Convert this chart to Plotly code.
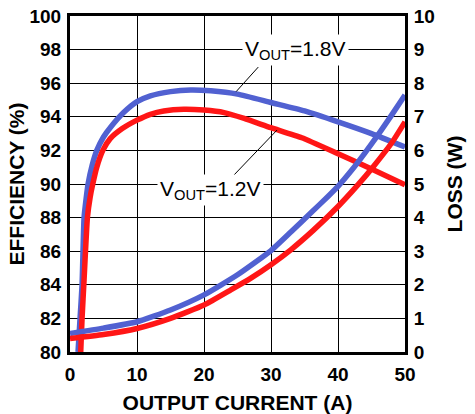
import plotly.graph_objects as go

# Efficiency curves (left axis, %)
eff18_x = [1.2, 1.5, 1.8, 2.1, 2.4, 2.7, 3.3, 4.0, 5.0, 6.0, 8.0, 10, 12, 15, 18, 21, 25, 30, 35, 40, 45, 50]
eff18_y = [80.0, 82.0, 84.0, 88.0, 89.1, 90.0, 91.1, 92.0, 92.8, 93.35, 94.25, 94.9, 95.25, 95.5, 95.6, 95.55, 95.35, 94.85, 94.35, 93.7, 93.0, 92.2]

eff12_x = [1.6, 1.8, 2.1, 2.6, 3.0, 3.4, 4.0, 4.9, 6.0, 7.8, 10, 12, 14, 17, 20, 23, 26, 30, 34.6, 40, 45, 50]
eff12_y = [80.0, 82.0, 84.3, 88.0, 89.2, 90.0, 91.0, 92.0, 92.7, 93.3, 93.8, 94.15, 94.35, 94.45, 94.4, 94.25, 93.9, 93.35, 92.75, 91.8, 90.9, 89.95]

# Loss curves (right axis, W)
loss18_x = [0, 5, 10, 15, 20, 25, 30, 33, 36, 38.5, 40, 42, 44, 46, 48, 50]
loss18_y = [0.55, 0.71, 0.9, 1.25, 1.7, 2.3, 3.02, 3.58, 4.15, 4.63, 4.93, 5.4, 5.92, 6.47, 7.05, 7.65]

loss12_x = [0, 5, 10, 15, 20, 24, 27, 30, 33, 36.3, 40, 43, 45.2, 48, 50]
loss12_y = [0.4, 0.52, 0.7, 1.0, 1.4, 1.85, 2.2, 2.6, 3.05, 3.62, 4.33, 4.98, 5.5, 6.22, 6.85]

x_ticks = [0, 10, 20, 30, 40, 50]
eff_ticks = [80, 82, 84, 86, 88, 90, 92, 94, 96, 98, 100]
loss_ticks = list(range(0, 11))

BLUE = "#5161d1"
RED = "#ff1616"
FONT = "Liberation Sans"

fig = go.Figure()
line_kw = dict(width=5.5, shape="spline", smoothing=0.5)
fig.add_trace(go.Scatter(x=eff18_x, y=eff18_y, mode="lines", line=dict(color=BLUE, **line_kw), yaxis="y"))
fig.add_trace(go.Scatter(x=loss18_x, y=loss18_y, mode="lines", line=dict(color=BLUE, **line_kw), yaxis="y2"))
fig.add_trace(go.Scatter(x=eff12_x, y=eff12_y, mode="lines", line=dict(color=RED, **line_kw), yaxis="y"))
fig.add_trace(go.Scatter(x=loss12_x, y=loss12_y, mode="lines", line=dict(color=RED, **line_kw), yaxis="y2"))

tickfont = dict(family=FONT, size=19, color="black", weight="bold")
titlefont = dict(family=FONT, size=21, color="black", weight="bold")

fig.update_layout(
    width=475, height=414,
    margin=dict(l=70, r=70, t=16, b=62),
    paper_bgcolor="white", plot_bgcolor="white",
    showlegend=False,
    xaxis=dict(range=[0, 50], tickvals=x_ticks, showgrid=True, gridcolor="black", gridwidth=1.3,
               showline=True, linecolor="black", linewidth=3, mirror=True, zeroline=False,
               ticks="", tickfont=tickfont, ticklabelstandoff=3, automargin=False,
               title=dict(text="OUTPUT CURRENT (A)", font=titlefont, standoff=14)),
    yaxis=dict(range=[80, 100], tickvals=eff_ticks, showgrid=True, gridcolor="black", gridwidth=1.3,
               showline=True, linecolor="black", linewidth=3, mirror=True, zeroline=False,
               ticks="", tickfont=tickfont, ticklabelstandoff=2, automargin=False,
               title=dict(text="EFFICIENCY (%)", font=titlefont, standoff=0)),
    yaxis2=dict(range=[0, 10], tickvals=loss_ticks, overlaying="y", side="right", showgrid=False,
                showline=True, linecolor="black", linewidth=3, zeroline=False,
                ticks="", tickfont=tickfont, ticklabelstandoff=2, automargin=False,
                title=dict(text="LOSS (W)", font=titlefont, standoff=14)),
)

annfont = dict(family=FONT, size=21, color="black")
fig.add_annotation(x=33.6, y=97.98, xref="x", yref="y", text="V<sub>OUT</sub>=1.8V",
                   showarrow=False, font=annfont, bgcolor="white", borderpad=2)
fig.add_annotation(x=21.0, y=89.64, xref="x", yref="y", text="V<sub>OUT</sub>=1.2V",
                   showarrow=False, font=annfont, bgcolor="white", borderpad=2)
fig.add_shape(type="line", xref="x", yref="y", x0=24.8, y0=95.5, x1=28.1, y1=96.96,
              line=dict(color="black", width=1))
fig.add_shape(type="line", xref="x", yref="y", x0=24.2, y0=90.42, x1=30.9, y1=93.21,
              line=dict(color="black", width=1))

fig.write_html("out.html", config={"displayModeBar": False},
               post_script="document.body.style.margin='0px';")
